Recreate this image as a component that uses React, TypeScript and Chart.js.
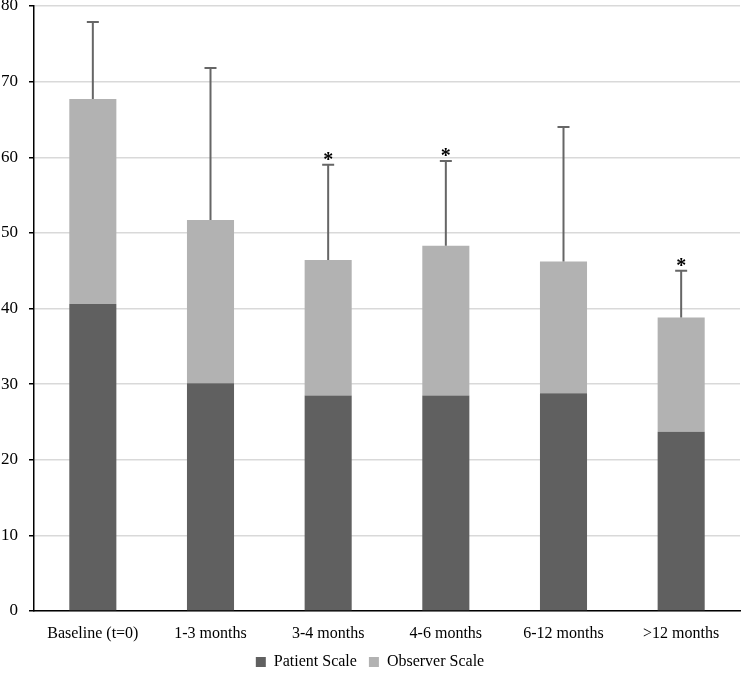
import React, { useEffect, useRef } from "react";
import { Chart, registerables } from "chart.js";

Chart.register(...registerables);

const categories = ["Baseline (t=0)", "1-3 months", "3-4 months", "4-6 months", "6-12 months", ">12 months"];
const patientScale = [40.6, 30.1, 28.5, 28.5, 28.8, 23.7];
const observerScale = [27.1, 21.6, 17.9, 19.8, 17.4, 15.1];
const errorUpper = [10.2, 20.1, 12.6, 11.2, 17.8, 6.2];
const significant = [false, false, true, true, false, true];
const yTicks = [0, 10, 20, 30, 40, 50, 60, 70, 80];

const FONT = "'Liberation Serif', 'DejaVu Serif', serif";
Chart.defaults.font.family = FONT;
Chart.defaults.color = "#000000";

const errorBarPlugin = {
  id: "errorBars",
  afterDatasetsDraw(chart: any) {
    const ctx = chart.ctx;
    const meta = chart.getDatasetMeta(1);
    const y = chart.scales.y;
    ctx.save();
    meta.data.forEach((bar: any, i: number) => {
      const total = patientScale[i] + observerScale[i];
      const yBase = y.getPixelForValue(total);
      const yTop = y.getPixelForValue(total + errorUpper[i]);
      const x = bar.x;
      ctx.strokeStyle = "#666666";
      ctx.lineWidth = 2;
      ctx.beginPath();
      ctx.moveTo(x, yBase);
      ctx.lineTo(x, yTop);
      ctx.moveTo(x - 6, yTop);
      ctx.lineTo(x + 6, yTop);
      ctx.stroke();
      if (significant[i]) {
        ctx.fillStyle = "#000000";
        ctx.font = `bold 20px ${FONT}`;
        ctx.textAlign = "center";
        ctx.textBaseline = "alphabetic";
        ctx.fillText("*", x, yTop + 1);
      }
    });
    ctx.restore();
  },
};

export default function App() {
  const ref = useRef<HTMLCanvasElement | null>(null);
  useEffect(() => {
    document.body.style.margin = "0";
    if (!ref.current) return;
    const chart = new Chart(ref.current, {
      type: "bar",
      data: {
        labels: categories,
        datasets: [
          {
            label: "Patient Scale",
            data: patientScale,
            backgroundColor: "#606060",
            barPercentage: 0.4,
            categoryPercentage: 1,
          },
          {
            label: "Observer Scale",
            data: observerScale,
            backgroundColor: "#b2b2b2",
            barPercentage: 0.4,
            categoryPercentage: 1,
          },
        ],
      },
      options: {
        animation: false,
        responsive: false,
        maintainAspectRatio: false,
        layout: { padding: { top: 0, right: 2, left: 0, bottom: 0 } },
        plugins: {
          tooltip: { enabled: false },
          legend: {
            position: "bottom",
            labels: {
              boxWidth: 10,
              boxHeight: 10,
              padding: 12,
              color: "#000000",
              font: { family: FONT, size: 16 },
            },
          },
        },
        scales: {
          x: {
            stacked: true,
            grid: { display: false, drawTicks: false },
            border: { display: true, color: "#000000", width: 1.5 },
            ticks: { color: "#000000", font: { family: FONT, size: 16 }, padding: 13, maxRotation: 0 },
            afterFit: (s: any) => { s.height = 31; },
          },
          y: {
            stacked: true,
            min: 0,
            max: 80,
            afterBuildTicks: (s: any) => { s.ticks = yTicks.map((v) => ({ value: v })); },
            grid: { color: "#d9d9d9", lineWidth: 1.5, tickLength: 5, tickColor: "#000000" },
            border: { display: true, color: "#000000", width: 1.5 },
            ticks: { color: "#000000", font: { family: FONT, size: 17 }, padding: 11 },
            afterFit: (s: any) => { s.width = 34; s.paddingTop = 6; s.paddingBottom = 0; },
          },
        },
      },
      plugins: [errorBarPlugin],
    });
    return () => chart.destroy();
  }, []);
  return (
    <div style={{ width: 742, height: 680 }}>
      <canvas ref={ref} width={742} height={680} style={{ width: 742, height: 680, display: "block" }} />
    </div>
  );
}
